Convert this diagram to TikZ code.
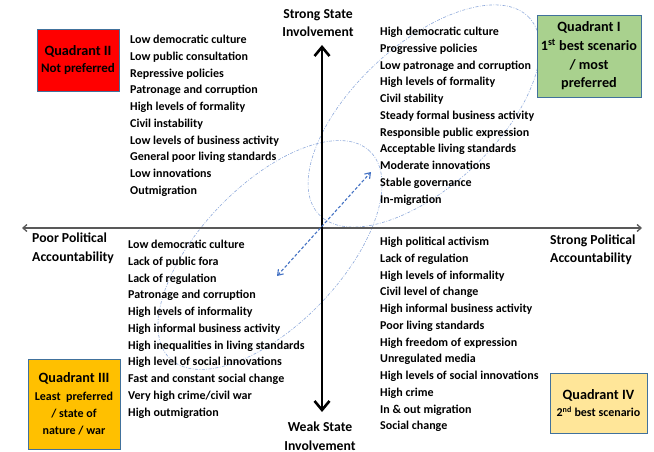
\documentclass[tikz,border=0pt]{standalone}
\usepackage{fontspec}
\setmainfont{Carlito}
\usetikzlibrary{arrows.meta,shapes.geometric}
\definecolor{qred}{HTML}{FF0000}
\definecolor{qgreen}{HTML}{A9D18E}
\definecolor{qorange}{HTML}{FFC000}
\definecolor{qyellow}{HTML}{FFE699}
\definecolor{qborder}{HTML}{41719C}
\definecolor{arrowblue}{HTML}{4472C4}
\definecolor{ellblue}{HTML}{8FAADC}
\definecolor{axisgray}{HTML}{595959}
\begin{document}
\begin{tikzpicture}[x=1pt,y=-1pt,
  listtext/.style={anchor=north west, inner sep=0pt, align=left, font=\fontsize{12}{16.75}\selectfont\bfseries},
  axislabel/.style={inner sep=0pt, font=\fontsize{13.7}{18.5}\selectfont\bfseries},
  quadbox/.style={draw=qborder, line width=0.8pt, align=center, inner sep=0pt},
  loopshape/.style={ellipse, draw=ellblue, line width=0.6pt, dash pattern=on 3pt off 1.5pt on 0.8pt off 1.5pt, inner sep=0pt},
  mainaxis/.style={line width=2.6pt, black, {Straight Barb[length=9pt,width=15pt]}-{Straight Barb[length=9pt,width=15pt]}},
  crossaxis/.style={line width=1.3pt, axisgray, {Straight Barb[length=4pt,width=7pt]}-{Straight Barb[length=4pt,width=7pt]}},
  shiftarrow/.style={line width=1.1pt, arrowblue, dash pattern=on 3pt off 2pt, {Straight Barb[length=5pt,width=7pt]}-{Straight Barb[length=5pt,width=7pt]}}
]
\useasboundingbox (0,0) rectangle (654,452);
\fill[white] (0,0) rectangle (654,452);

% dashed loops
\node[loopshape, minimum width=288pt, minimum height=140pt, rotate=46] (loopA) at (270,255) {};
\node[loopshape, minimum width=288pt, minimum height=142pt, rotate=43] (loopB) at (424,116) {};

% axes
\coordinate (west) at (22,228);
\coordinate (east) at (642,228);
\coordinate (north) at (322,45);
\coordinate (south) at (322,412);
\draw[crossaxis] (west) -- (east);
\draw[mainaxis] (south) -- (north);

% shift arrow
\coordinate (shiftA) at (277,276);
\coordinate (shiftB) at (371,172);
\draw[shiftarrow] (shiftA) -- (shiftB);

% axis labels
\node[axislabel, align=center] (strongstate) at (318,23) {Strong State\\Involvement};
\node[axislabel, align=center] (weakstate) at (320,436) {Weak State\\Involvement};
\node[axislabel, align=left, anchor=west] (poorpol) at (32,248.5) {Poor Political\\Accountability};
\node[axislabel, align=left, anchor=west] (strongpol) at (550,250) {Strong Political\\Accountability};

% quadrant boxes
\node[quadbox, fill=qred, minimum width=82pt, minimum height=62pt, font=\fontsize{13}{17}\selectfont\bfseries] (q2) at (78,60)
  {{\fontsize{14.2}{17}\selectfont Quadrant II}\\Not preferred};
\node[quadbox, fill=qgreen, minimum width=104pt, minimum height=82pt, font=\fontsize{14.2}{18.7}\selectfont\bfseries] (q1) at (589,56)
  {Quadrant I\\1\textsuperscript{st} best scenario\\/ most\\preferred};
\node[quadbox, fill=qorange, minimum width=92pt, minimum height=90pt, font=\fontsize{12}{17.3}\selectfont\bfseries] (q3) at (74,404)
  {{\fontsize{14.2}{17.3}\selectfont Quadrant III}\\Least\ \ preferred\\/ state of\\nature / war};
\node[quadbox, fill=qyellow, minimum width=97pt, minimum height=60pt, font=\fontsize{12}{17}\selectfont\bfseries] (q4) at (598.5,403)
  {{\fontsize{14.2}{17}\selectfont Quadrant IV}\\2\textsuperscript{nd} best scenario};

% lists
\node[listtext] (list2) at (130,34.9) {Low democratic culture\\Low public consultation\\Repressive policies\\Patronage and corruption\\High levels of formality\\Civil instability\\Low levels of business activity\\General poor living standards\\Low innovations\\Outmigration};
\node[listtext] (list1) at (380,26.9) {High democratic culture\\Progressive policies\\Low patronage and corruption\\High levels of formality\\Civil stability\\Steady formal business activity\\Responsible public expression\\Acceptable living standards\\Moderate innovations\\Stable governance\\In-migration};
\node[listtext] (list3) at (128,239.9) {Low democratic culture\\Lack of public fora\\Lack of regulation\\Patronage and corruption\\High levels of informality\\High informal business activity\\High inequalities in living standards\\High level of social innovations\\Fast and constant social change\\Very high crime/civil war\\High outmigration};
\node[listtext] (list4) at (380,236.9) {High political activism\\Lack of regulation\\High levels of informality\\Civil level of change\\High informal business activity\\Poor living standards\\High freedom of expression\\Unregulated media\\High levels of social innovations\\High crime\\In \& out migration\\Social change};
\end{tikzpicture}
\end{document}
